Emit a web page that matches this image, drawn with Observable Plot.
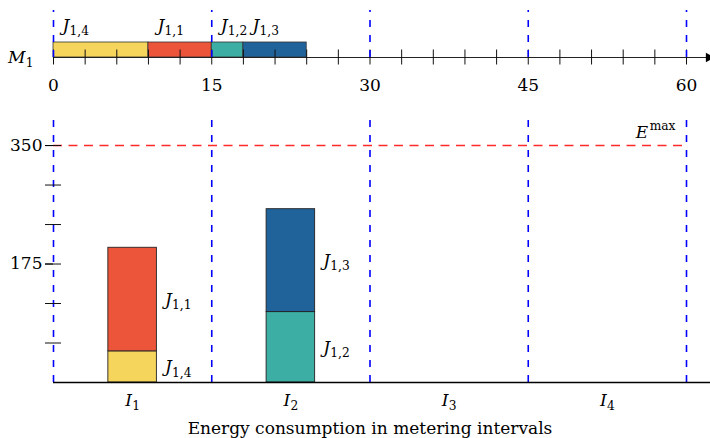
<!DOCTYPE html>
<html>
<head>
<meta charset="utf-8">
<script src="https://cdn.jsdelivr.net/npm/d3@7"></script>
<script src="https://cdn.jsdelivr.net/npm/@observablehq/plot@0.6"></script>
<style>
  html, body { margin: 0; padding: 0; background: white; }
  #chart { width: 710px; }
  #chart svg { display: block; }
</style>
</head>
<body>
<div id="chart"></div>
<script>
// ---------- data ----------
const jobs = ["J_{1,4}", "J_{1,1}", "J_{1,2}", "J_{1,3}"];
const jobStart = [0, 9, 15, 18];
const jobEnd = [9, 15, 18, 24];
const jobEnergy = [46, 153, 104, 152];
const jobColors = ["#F6D55C", "#ED553B", "#3CAEA3", "#20639B"];
const machine = "M_1";
const intervals = ["I_1", "I_2", "I_3", "I_4"];
const intervalBounds = [0, 15, 30, 45, 60];
const timeTicks = [0, 3, 6, 9, 12, 15, 18, 21, 24, 27, 30, 33, 36, 39, 42, 45, 48, 51, 54, 57, 60];
const timeLabels = [0, 15, 30, 45, 60];
const energyTicks = [58.33, 116.67, 175, 233.33, 291.67, 350];
const energyLabels = [175, 350];
const Emax = 350;
const EmaxLabel = "E^{max}";
const xTitle = "Energy consumption in metering intervals";

// ---------- derived tables ----------
const jobRows = jobs.map((j, i) => ({job: j, start: jobStart[i], end: jobEnd[i], energy: jobEnergy[i]}));
const intervalRows = intervals.map((lab, k) => ({label: lab, lo: intervalBounds[k], hi: intervalBounds[k + 1], mid: (intervalBounds[k] + intervalBounds[k + 1]) / 2}));
const barHalf = 2.3; // half bar width in time units (style)
const stacked = [];
intervalRows.forEach((iv) => {
  let acc = 0;
  jobRows.forEach((r) => {
    if (r.start >= iv.lo && r.start < iv.hi) {
      stacked.push({job: r.job, x1: iv.mid - barHalf, x2: iv.mid + barHalf, y1: acc, y2: acc + r.energy});
      acc += r.energy;
    }
  });
});
const axisEnd = 62.1;
const FS = 17;

const font = {fontFamily: "DejaVu Serif", fontSize: FS + "px", background: "white", overflow: "visible"};
const blueDash = {stroke: "#0000ff", strokeWidth: 1.6, strokeDasharray: "7 8"};
const colorScale = {domain: jobs, range: jobColors};

// ---------- top: schedule of M1 ----------
const schedulePlot = Plot.plot({
  width: 710, height: 105,
  marginLeft: 53, marginRight: 24, marginTop: 0, marginBottom: 0,
  style: font,
  x: {domain: [0, 60], axis: null},
  y: {domain: [-48, 57], range: [105, 0], axis: null},
  color: colorScale,
  marks: [
    Plot.rect(jobRows, {x1: "start", x2: "end", y1: 0, y2: 15, fill: "job", stroke: "#333", strokeWidth: 0.8}),
    Plot.ruleY([0], {x1: 0, x2: axisEnd, stroke: "#222", strokeWidth: 1.2}),
    Plot.dot([axisEnd], {x: d => d, y: 0, symbol: "triangle", rotate: 90, r: 3.6, fill: "black", stroke: null}),
    Plot.ruleX(timeTicks, {x: d => d, y1: -7.5, y2: 7.5, stroke: "#111", strokeWidth: 1}),
    Plot.ruleX(intervalBounds, {x: d => d, y1: 0, y2: 47, ...blueDash}),
    Plot.text(jobRows, {x: "start", y: 15, text: "job", dx: 9, dy: -12, textAnchor: "start", lineAnchor: "bottom", fontSize: FS}),
    Plot.text([machine], {x: 0, y: 0, text: d => d, dx: -20, textAnchor: "end", lineAnchor: "middle", fontSize: FS}),
    Plot.text(timeLabels, {x: d => d, y: 0, text: d => String(d), dy: 33, lineAnchor: "bottom", fontSize: FS})
  ]
});

// ---------- bottom: energy per interval ----------
const energyPlot = Plot.plot({
  width: 710, height: 333,
  marginLeft: 53, marginRight: 24, marginTop: 15, marginBottom: 56,
  style: font,
  x: {domain: [0, 60], axis: null},
  y: {domain: [0, 387]},
  color: colorScale,
  marks: [
    Plot.rect(stacked, {x1: "x1", x2: "x2", y1: "y1", y2: "y2", fill: "job", stroke: "#222", strokeWidth: 0.9}),
    Plot.ruleY([Emax], {x1: 0, x2: 60, stroke: "#ff2a2a", strokeWidth: 1.6, strokeDasharray: "9 6.5"}),
    Plot.ruleX(intervalBounds, {x: d => d, ...blueDash}),
    Plot.ruleY([0], {x1: 0, x2: axisEnd + 0.4, stroke: "black", strokeWidth: 1.3}),
    Plot.axisY(energyTicks, {tickSize: 16, dx: 8, tickFormat: () => "", label: null, stroke: "#111"}),
    Plot.axisY(energyLabels, {tickSize: 8, tickPadding: 3, label: null, fontSize: FS, tickFormat: d => String(d)}),
    Plot.text(stacked, {x: "x2", y: d => (d.y1 + d.y2) / 2, text: "job", dx: 8, textAnchor: "start", lineAnchor: "middle", fontSize: FS}),
    Plot.text([EmaxLabel], {x: 60, y: Emax, text: d => d, dx: -11, dy: -8, textAnchor: "end", lineAnchor: "bottom", fontSize: FS}),
    Plot.text(intervalRows, {x: "mid", y: 0, text: "label", dy: 23, lineAnchor: "bottom", fontSize: FS}),
    Plot.text([xTitle], {frameAnchor: "bottom", text: d => d, dy: 51, lineAnchor: "bottom", fontSize: FS})
  ]
});

// ---------- math-style sub/superscripts ----------
const NS = "http://www.w3.org/2000/svg";
function mathify(svg) {
  svg.querySelectorAll("text").forEach((t) => {
    const s = t.textContent;
    const m = s.match(/^([A-Za-z])([_^])\{?([^}]*)\}?$/);
    if (!m) return;
    while (t.firstChild) t.removeChild(t.firstChild);
    const base = document.createElementNS(NS, "tspan");
    base.setAttribute("font-style", "italic");
    base.textContent = m[1];
    const sc = document.createElementNS(NS, "tspan");
    sc.setAttribute("font-size", "0.72em");
    sc.setAttribute("dy", m[2] === "_" ? "0.36em" : "-0.6em");
    sc.setAttribute("dx", m[2] === "_" ? "0.02em" : "0.12em");
    sc.textContent = m[3];
    t.append(base, sc);
  });
}
mathify(schedulePlot);
mathify(energyPlot);

const root = document.getElementById("chart");
root.append(schedulePlot, energyPlot);
</script>
</body>
</html>
